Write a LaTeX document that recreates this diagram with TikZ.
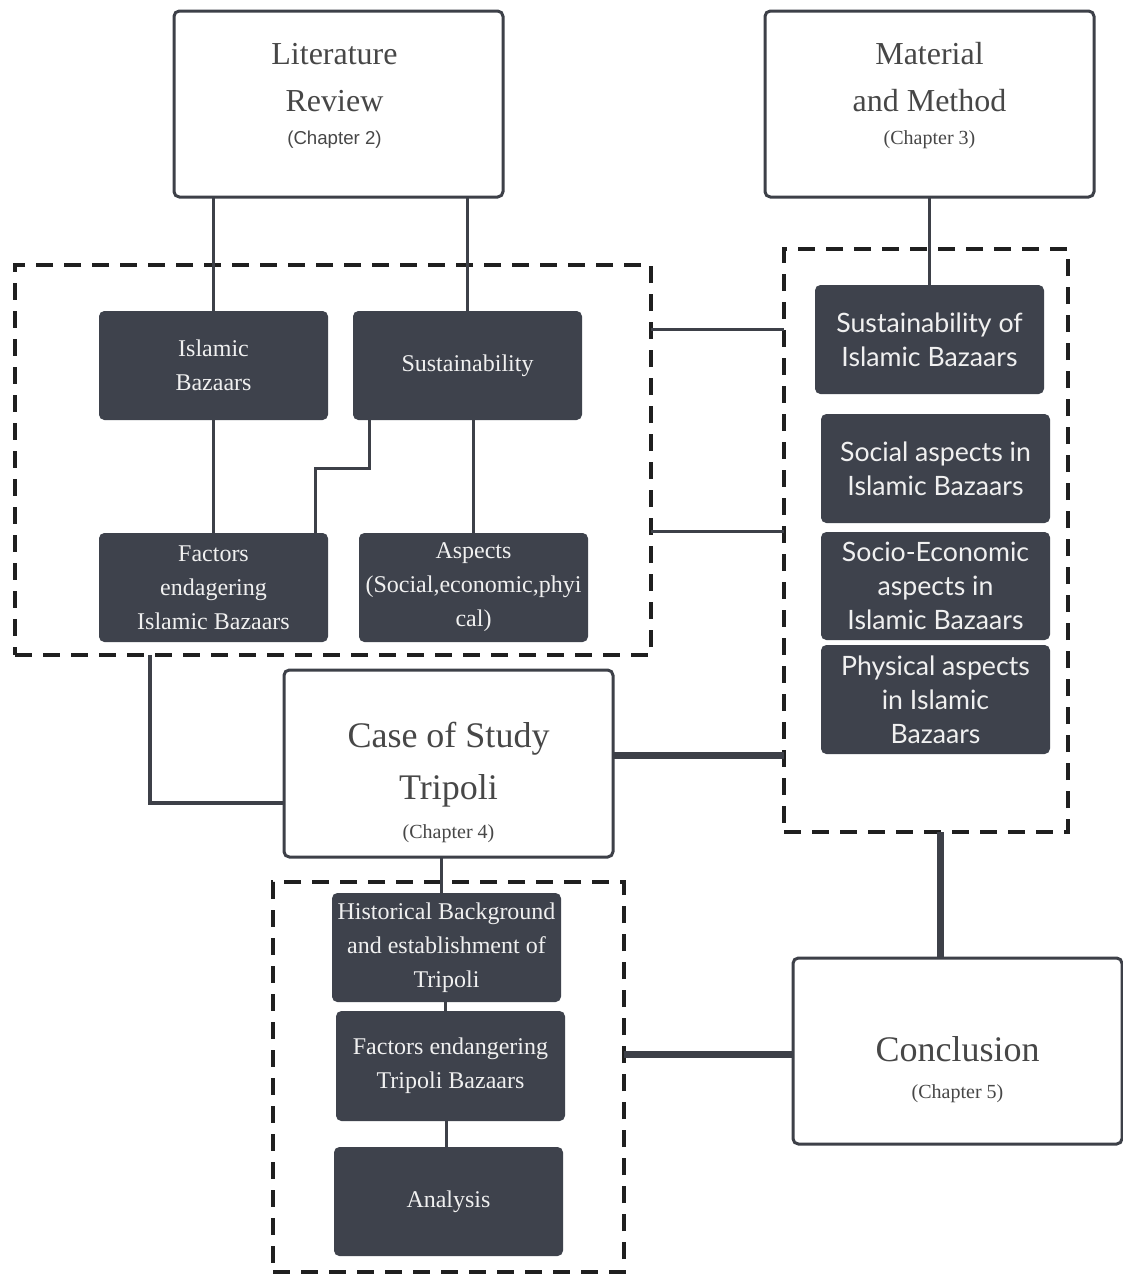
\documentclass[tikz,border=0pt]{standalone}
\usepackage{fontspec}
\setmainfont{Liberation Serif}
\newfontfamily\sansf{Lato}
\newfontfamily\chapsans{Liberation Sans}
\definecolor{dark}{HTML}{3E424C}
\definecolor{conn}{HTML}{3D4048}
\definecolor{dashcol}{HTML}{1F1F1F}
\definecolor{txtgray}{HTML}{474747}
\tikzset{
  every node/.style={outer sep=0pt},
  darkbox/.style={fill=dark, rounded corners=4pt, minimum width=171.75pt, minimum height=81.75pt, inner sep=2pt, text=white!94!black, align=center, anchor=north west},
  serifdark/.style={darkbox, font=\fontsize{18}{25.5}\selectfont},
  sansdark/.style={darkbox, font=\sansf\fontsize{20}{25.5}\selectfont},
  whitebox/.style={draw=conn, line width=2.25pt, fill=white, rounded corners=4pt, minimum width=246.75pt, minimum height=139.5pt, anchor=north west, inner sep=0},
  wtext/.style={align=center, text=txtgray, inner sep=0},
  grp/.style={draw=dashcol, line width=3pt, dash pattern=on 12.75pt off 8.25pt, anchor=north west, inner sep=0},
  linkthin/.style={draw=conn, line width=2.25pt},
  linkthick/.style={draw=conn, line width=5.25pt},
}
\begin{document}
\begin{tikzpicture}[x=0.75pt, y=-0.75pt]
\useasboundingbox[fill=white] (0,0) rectangle (1123,1278);

% dashed groups
\node[grp, minimum width=477pt, minimum height=292.5pt] (g1) at (15,265) {};
\node[grp, minimum width=213pt, minimum height=437.25pt] (g2) at (784,249) {};
\node[grp, minimum width=263.25pt, minimum height=292.5pt] (g3) at (273,882) {};

% white boxes
\node[whitebox] (lr) at (174,11) {};
\node[wtext, font=\fontsize{24}{35}\selectfont] (lrt) at ([xshift=-3pt,yshift=6pt]lr.center) {Literature\\Review\\[-10pt]{\chapsans\fontsize{14}{17}\selectfont (Chapter 2)}};
\node[whitebox] (mm) at (765,11) {};
\node[wtext, font=\fontsize{24}{35}\selectfont] (mmt) at ([yshift=6pt]mm.center) {Material\\and Method\\[-10pt]{\fontsize{15}{17}\selectfont (Chapter 3)}};
\node[whitebox, minimum height=140.25pt] (cs) at (284,670) {};
\node[wtext, font=\fontsize{27}{39}\selectfont] (cst) at ([yshift=-14pt]cs.center) {Case of Study\\Tripoli\\[-10pt]{\fontsize{15}{17}\selectfont (Chapter 4)}};
\node[whitebox] (cc) at (793,958) {};
\node[wtext, font=\fontsize{27}{39}\selectfont] (cct) at ([yshift=-14pt]cc.center) {Conclusion\\[-11pt]{\fontsize{15}{17}\selectfont (Chapter 5)}};

% dark boxes, literature group
\node[serifdark] (ib) at (99,311) {Islamic\\Bazaars};
\node[serifdark] (sus) at (353,311) {Sustainability};
\node[serifdark] (fib) at (99,533) {Factors\\endagering\\Islamic Bazaars};
\node[serifdark] (asp) at (359,533) {Aspects\\(Social,economic,phyi\\cal)};

% dark boxes, method group
\node[sansdark] (sib) at (815,285) {Sustainability of\\Islamic Bazaars};
\node[sansdark] (soc) at (821,414) {Social aspects in\\Islamic Bazaars};
\node[sansdark, minimum height=81pt] (sec) at (821,532) {Socio-Economic\\aspects in\\Islamic Bazaars};
\node[sansdark] (phy) at (821,645) {Physical aspects\\in Islamic\\Bazaars};

% dark boxes, case group
\node[serifdark] (hb) at (332,893) {Historical Background\\and establishment of\\Tripoli};
\node[serifdark, minimum height=82.5pt] (fe) at (336,1011) {Factors endangering\\Tripoli Bazaars};
\node[serifdark] (an) at (334,1147) {Analysis};

% connectors
\draw[linkthin] (lr.south -| ib.north) -- (ib.north);
\draw[linkthin] (lr.south -| sus.north) -- (sus.north);
\draw[linkthin] (mm.south -| sib.north) -- (sib.north);
\draw[linkthin] (ib.south) -- (fib.north -| ib.south);
\draw[linkthin] (sus.south -| asp.north) -- (asp.north);
\coordinate (s1) at (sus.south west -| 369,0);
\coordinate (s2) at (315,468);
\draw[linkthin] (s1) |- (s2) -- (fib.north -| s2);
\draw[linkthin] (g1.east |- 0,329) -- (g2.west |- 0,329);
\draw[linkthin] (g1.east |- 0,531) -- (g2.west |- 0,531);
\coordinate (c1) at (g1.south -| 150,0);
\draw[linkthin, line width=3pt] (c1) |- (cs.west |- 0,803);
\draw[linkthick] (cs.east |- 0,755) -- (g2.west |- 0,755);
\draw[linkthick] (g2.south -| 940,0) -- (cc.north -| 940,0);
\draw[linkthick] (cc.west |- 0,1054) -- (g3.east |- 0,1054);
\draw[linkthin] (cs.south -| 441,0) -- (hb.north -| 441,0);
\draw[linkthin] (hb.south -| 445,0) -- (fe.north -| 445,0);
\draw[linkthin] (fe.south -| 446,0) -- (an.north -| 446,0);
\end{tikzpicture}
\end{document}
